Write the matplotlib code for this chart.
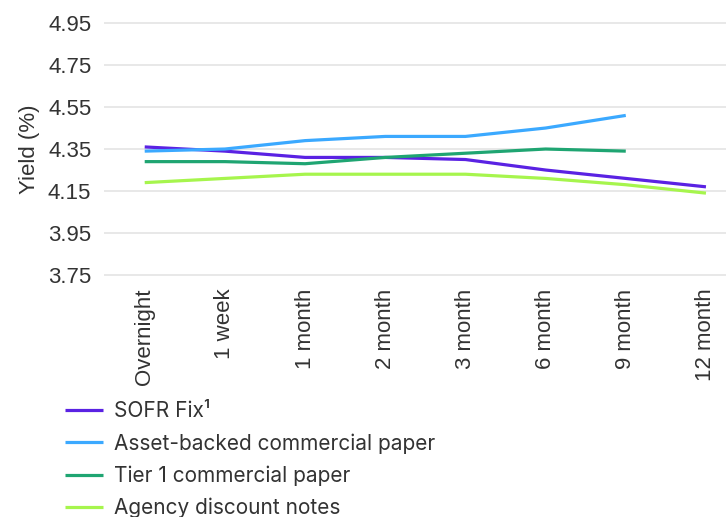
import matplotlib.pyplot as plt
import numpy as np

# tenors and yields
tenors = ['Overnight', '1 week', '1 month', '2 month', '3 month', '6 month', '9 month', '12 month']
sofr = [4.36, 4.34, 4.31, 4.31, 4.30, 4.25, 4.21, 4.17]
abcp = [4.34, 4.35, 4.39, 4.41, 4.41, 4.45, 4.51]
tier1 = [4.29, 4.29, 4.28, 4.31, 4.33, 4.35, 4.34]
agency = [4.19, 4.21, 4.23, 4.23, 4.23, 4.21, 4.18, 4.14]
yticks = [3.75, 3.95, 4.15, 4.35, 4.55, 4.75, 4.95]

plt.rcParams['font.family'] = ['Liberation Sans', 'DejaVu Sans']
text_col = '#333333'

fig = plt.figure(figsize=(7.26, 5.17), dpi=100)
ax = fig.add_axes([0.143, 0.466, 0.857, 0.4915])

series = [
    ('SOFR Fix\u00b9', sofr, '#5a22e3'),
    ('Asset-backed commercial paper', abcp, '#3ba9ff'),
    ('Tier 1 commercial paper', tier1, '#1fa572'),
    ('Agency discount notes', agency, '#a6f54d'),
]
x = np.arange(len(tenors))
for label, vals, col in series:
    ax.plot(x[:len(vals)], vals, color=col, lw=2.3, label=label, solid_capstyle='butt')

ax.set_xlim(-0.51, 7.25)
ax.set_ylim(3.745, 4.955)
ax.set_yticks(yticks)
ax.set_yticklabels([f'{v:.2f}' for v in yticks])
ax.set_xticks(x)
ax.set_xticklabels(tenors, rotation=90, va='top', ha='center')
ax.tick_params(axis='both', length=0, labelsize=16, colors=text_col)
ax.tick_params(axis='x', pad=9)
ax.tick_params(axis='y', pad=9)
ax.yaxis.grid(True, color='#e6e6e6', lw=1.3)
ax.set_axisbelow(True)
for s in ax.spines.values():
    s.set_visible(False)
ax.set_ylabel('Yield (%)', fontsize=16, color=text_col, labelpad=6)

fig.legend(loc='upper left', bbox_to_anchor=(0.0895, 0.224), frameon=False,
           handlelength=1.83, handletextpad=0.53, labelspacing=0.57,
           borderaxespad=0, borderpad=0, labelcolor=text_col,
           prop={'family': ['Inter', 'DejaVu Sans'], 'size': 15})

fig.savefig('out.png', dpi=100)
